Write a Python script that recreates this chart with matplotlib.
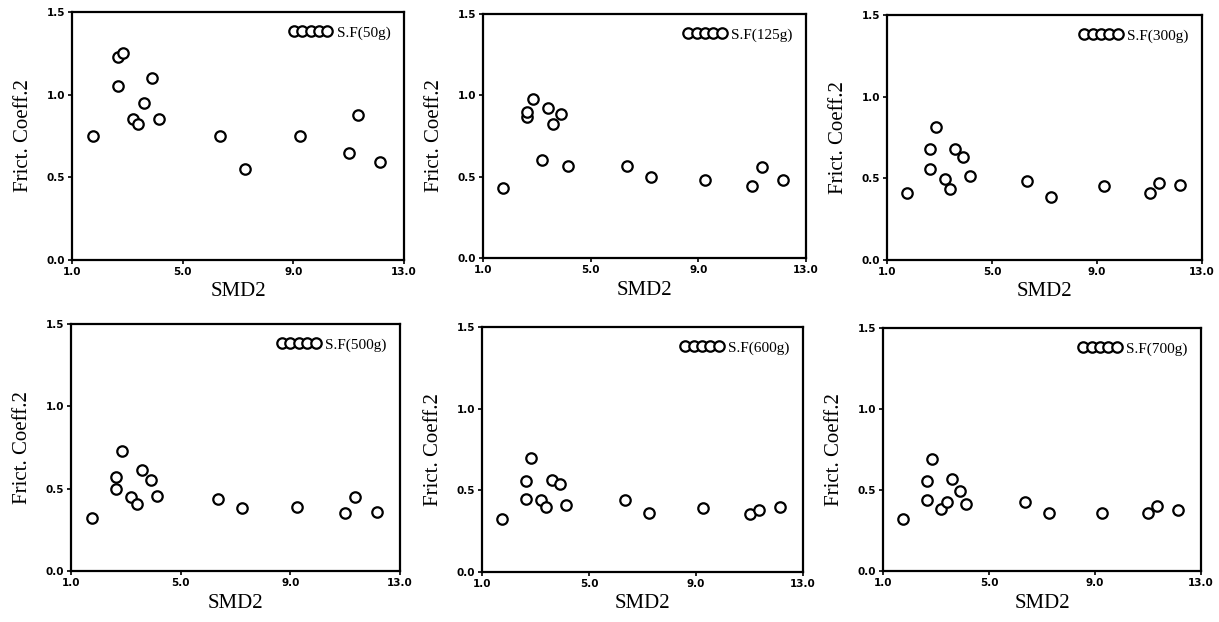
import matplotlib
matplotlib.use("Agg")
import matplotlib.pyplot as plt
from matplotlib.lines import Line2D

# ---- data ----
smd2 = [1.75, 2.65, 2.65, 2.85, 3.2, 3.4, 3.6, 3.9, 4.15, 6.35, 7.25, 9.25, 11.0, 11.35, 12.15]
labels = ["S.F(50g)", "S.F(125g)", "S.F(300g)", "S.F(500g)", "S.F(600g)", "S.F(700g)"]
fc_50 = [0.75, 1.05, 1.23, 1.255, 0.855, 0.825, 0.95, 1.10, 0.85, 0.75, 0.55, 0.75, 0.645, 0.875, 0.595]
fc_125 = [0.43, 0.865, 0.895, 0.98, 0.60, 0.925, 0.825, 0.885, 0.565, 0.565, 0.50, 0.48, 0.445, 0.56, 0.48]
fc_300 = [0.41, 0.56, 0.68, 0.815, 0.495, 0.435, 0.68, 0.63, 0.515, 0.485, 0.385, 0.455, 0.41, 0.47, 0.46]
fc_500 = [0.32, 0.50, 0.57, 0.73, 0.45, 0.405, 0.615, 0.55, 0.455, 0.44, 0.38, 0.39, 0.35, 0.45, 0.36]
fc_600 = [0.325, 0.45, 0.56, 0.70, 0.44, 0.40, 0.565, 0.54, 0.41, 0.44, 0.36, 0.39, 0.355, 0.38, 0.40]
fc_700 = [0.32, 0.44, 0.555, 0.69, 0.38, 0.425, 0.57, 0.495, 0.415, 0.425, 0.36, 0.36, 0.36, 0.40, 0.375]
series = [fc_50, fc_125, fc_300, fc_500, fc_600, fc_700]
xticks = [1.0, 5.0, 9.0, 13.0]
yticks = [0.0, 0.5, 1.0, 1.5]

W, H = 1219, 622
fig = plt.figure(figsize=(W / 100, H / 100), dpi=100)

# axes boxes in pixels: left, right, top, bottom
boxes = [
    (72, 404, 12, 260),
    (483, 806, 14, 258),
    (887, 1202, 15, 260),
    (71, 400, 324, 571),
    (482, 803, 327, 572),
    (883, 1201, 328, 571),
]

serif = ["Liberation Serif", "DejaVu Serif"]

for (l, r, t, b), ys, lab in zip(boxes, series, labels):
    ax = fig.add_axes([l / W, 1 - b / H, (r - l) / W, (b - t) / H])
    ax.plot(smd2, ys, linestyle="none", marker="o", markersize=7.5,
            markerfacecolor="white", markeredgecolor="black", markeredgewidth=1.6)
    ax.set_xlim(1, 13)
    ax.set_ylim(0, 1.5)
    ax.set_xticks(xticks)
    ax.set_yticks(yticks)
    ax.set_xticklabels([f"{v:.1f}" for v in xticks], fontsize=7.5, fontweight="bold")
    ax.set_yticklabels([f"{v:.1f}" for v in yticks], fontsize=7.5, fontweight="bold")
    ax.tick_params(direction="out", length=3, width=1.2, pad=2)
    for s in ax.spines.values():
        s.set_linewidth(1.6)
    ax.set_xlabel("SMD2", family=serif, fontsize=15, labelpad=4)
    ax.set_ylabel("Frict. Coeff.2", family=serif, fontsize=15, labelpad=10)
    h = Line2D([], [], linestyle="none", marker="o", markersize=7.5,
               markerfacecolor="white", markeredgecolor="black", markeredgewidth=1.6)
    ax.legend([h], [lab], loc="upper right", numpoints=5, handlelength=2.8,
              handletextpad=0.3, frameon=False, borderaxespad=0.5,
              prop={"family": serif, "size": 11})

fig.savefig("out.png", dpi=100)
